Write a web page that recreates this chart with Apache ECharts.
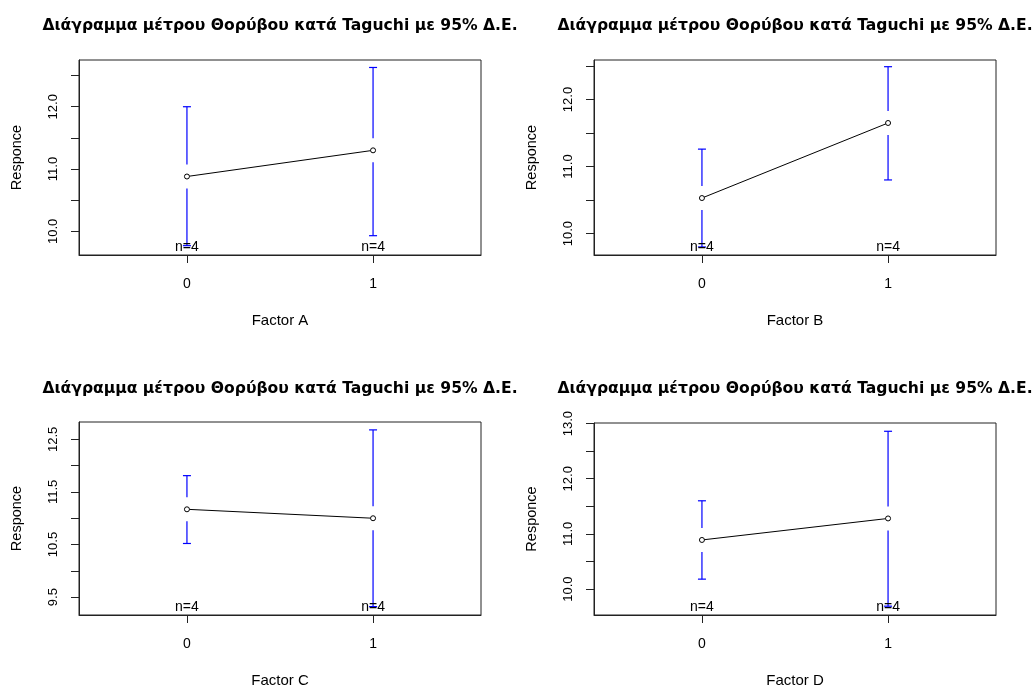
<!DOCTYPE html>
<html>
<head>
<meta charset="utf-8">
<title>Taguchi plotmeans</title>
<script src="https://cdn.jsdelivr.net/npm/echarts@6/dist/echarts.min.js"></script>
<style>
  html, body { margin: 0; padding: 0; background: #fff; }
  #chart { width: 1035px; height: 689px; }
</style>
</head>
<body>
<div id="chart"></div>
<script>
// factor levels and sample size per level
const levels = [0, 1]
const counts = [4, 4]
const titleText = 'Διάγραμμα μέτρου Θορύβου κατά Taguchi με 95% Δ.Ε.'
const factorNames = ['Factor A', 'Factor B', 'Factor C', 'Factor D']

// means and 95% CI bounds
const meansA = [10.88, 11.30]
const lowerA = [9.77, 9.93]
const upperA = [12.00, 12.63]

const meansB = [10.53, 11.65]
const lowerB = [9.80, 10.80]
const upperB = [11.26, 12.49]

const meansC = [11.17, 11.00]
const lowerC = [10.52, 9.32]
const upperC = [11.81, 12.68]

const meansD = [10.89, 11.28]
const lowerD = [10.18, 9.69]
const upperD = [11.60, 12.86]

// y axis ranges, ticks and labels
const yRangeA = [9.62, 12.75]
const yRangeB = [9.68, 12.59]
const yRangeC = [9.16, 12.83]
const yRangeD = [9.53, 13.01]
const yTicksAB = [10, 10.5, 11, 11.5, 12, 12.5]
const yLabelsAB = [10, 11, 12]
const yTicksC = [9.5, 10, 10.5, 11, 11.5, 12, 12.5]
const yLabelsC = [9.5, 10.5, 11.5, 12.5]
const yTicksD = [10, 10.5, 11, 11.5, 12, 12.5, 13]
const yLabelsD = [10, 11, 12, 13]

const panels = [
  { means: meansA, lower: lowerA, upper: upperA, range: yRangeA, ticks: yTicksAB, labels: yLabelsAB },
  { means: meansB, lower: lowerB, upper: upperB, range: yRangeB, ticks: yTicksAB, labels: yLabelsAB },
  { means: meansC, lower: lowerC, upper: upperC, range: yRangeC, ticks: yTicksC, labels: yLabelsC },
  { means: meansD, lower: lowerD, upper: upperD, range: yRangeD, ticks: yTicksD, labels: yLabelsD }
]

// plot boxes in px
const boxes = [
  { left: 79, top: 60, width: 402, height: 195 },
  { left: 594, top: 60, width: 402, height: 195 },
  { left: 79, top: 422, width: 402, height: 196 },
  { left: 594, top: 423, width: 402, height: 195 }
]
const titleTops = [18, 18, 381, 381]

const FONT = 'Liberation Sans, Arial, sans-serif'
const TITLE_FONT = 'DejaVu Sans, sans-serif'
const BLUE = '#0000ff'
const GAP = 12
const CAP = 4

const chart = echarts.init(document.getElementById('chart'), null, { renderer: 'canvas' })

const grid = []
const xAxis = []
const yAxis = []
const title = []
const series = []

// vertical segment / cap helper for the CI bars
const seg = (x1, y1, x2, y2) => ({
  type: 'line',
  shape: { x1, y1, x2, y2 },
  style: { stroke: BLUE, lineWidth: 1.2 }
})

panels.forEach((p, i) => {
  const b = boxes[i]
  grid.push({
    left: b.left, top: b.top, width: b.width, height: b.height,
    show: true, borderColor: '#222', borderWidth: 1, backgroundColor: 'transparent'
  })
  title.push({
    text: titleText,
    left: b.left + b.width / 2,
    top: titleTops[i],
    textAlign: 'center',
    padding: 0,
    textStyle: { fontFamily: TITLE_FONT, fontSize: 15.6, fontWeight: 'bold', color: '#000' }
  })
  xAxis.push({
    type: 'value',
    gridIndex: i,
    min: -0.58,
    max: 1.58,
    name: factorNames[i],
    nameLocation: 'middle',
    nameGap: 58,
    nameTextStyle: { fontFamily: FONT, fontSize: 15, color: '#000' },
    axisLine: { show: true, onZero: false, lineStyle: { color: '#222' } },
    axisTick: { show: true, length: 8, customValues: levels, lineStyle: { color: '#222' } },
    axisLabel: {
      customValues: levels, margin: 22,
      fontFamily: FONT, fontSize: 14, color: '#000',
      formatter: v => String(v)
    },
    splitLine: { show: false }
  })
  yAxis.push({
    type: 'value',
    gridIndex: i,
    min: p.range[0],
    max: p.range[1],
    name: 'Responce',
    nameLocation: 'middle',
    nameRotate: 90,
    nameGap: 55,
    nameTextStyle: { fontFamily: FONT, fontSize: 14.5, color: '#000' },
    axisLine: { show: true, onZero: false, lineStyle: { color: '#222' } },
    axisTick: { show: true, length: 8, customValues: p.ticks, lineStyle: { color: '#222' } },
    axisLabel: {
      customValues: p.labels, rotate: 90, margin: 19,
      fontFamily: FONT, fontSize: 13, color: '#000',
      formatter: v => Number(v).toFixed(1)
    },
    splitLine: { show: false }
  })

  // CI bars, split around the mean point
  series.push({
    type: 'custom',
    xAxisIndex: i,
    yAxisIndex: i,
    data: levels.map((x, k) => [x, p.lower[k], p.upper[k], p.means[k]]),
    renderItem: (params, api) => {
      const top = api.coord([api.value(0), api.value(2)])
      const bot = api.coord([api.value(0), api.value(1)])
      const mid = api.coord([api.value(0), api.value(3)])
      const x = mid[0]
      const kids = [
        seg(x - CAP, top[1], x + CAP, top[1]),
        seg(x - CAP, bot[1], x + CAP, bot[1])
      ]
      if (mid[1] - GAP > top[1]) kids.push(seg(x, top[1], x, mid[1] - GAP))
      if (mid[1] + GAP < bot[1]) kids.push(seg(x, mid[1] + GAP, x, bot[1]))
      return { type: 'group', children: kids }
    },
    z: 2
  })

  // mean line
  series.push({
    type: 'line',
    xAxisIndex: i,
    yAxisIndex: i,
    data: levels.map((x, k) => [x, p.means[k]]),
    symbol: 'circle',
    symbolSize: 5,
    showSymbol: true,
    lineStyle: { color: '#000', width: 1 },
    itemStyle: { color: '#fff', borderColor: '#000', borderWidth: 1 },
    animation: false,
    z: 3
  })

  // n= labels along the bottom of the box
  series.push({
    type: 'custom',
    xAxisIndex: i,
    yAxisIndex: i,
    data: levels.map((x, k) => [x, counts[k]]),
    renderItem: (params, api) => {
      const cs = params.coordSys
      const pt = api.coord([api.value(0), p.range[0]])
      return {
        type: 'text',
        style: {
          x: pt[0],
          y: cs.y + cs.height - 1,
          text: 'n=' + api.value(1),
          align: 'center',
          verticalAlign: 'bottom',
          font: '14px ' + FONT,
          fill: '#000'
        }
      }
    },
    z: 4
  })
})

chart.setOption({
  animation: false,
  title,
  grid,
  xAxis,
  yAxis,
  series
})
</script>
</body>
</html>
